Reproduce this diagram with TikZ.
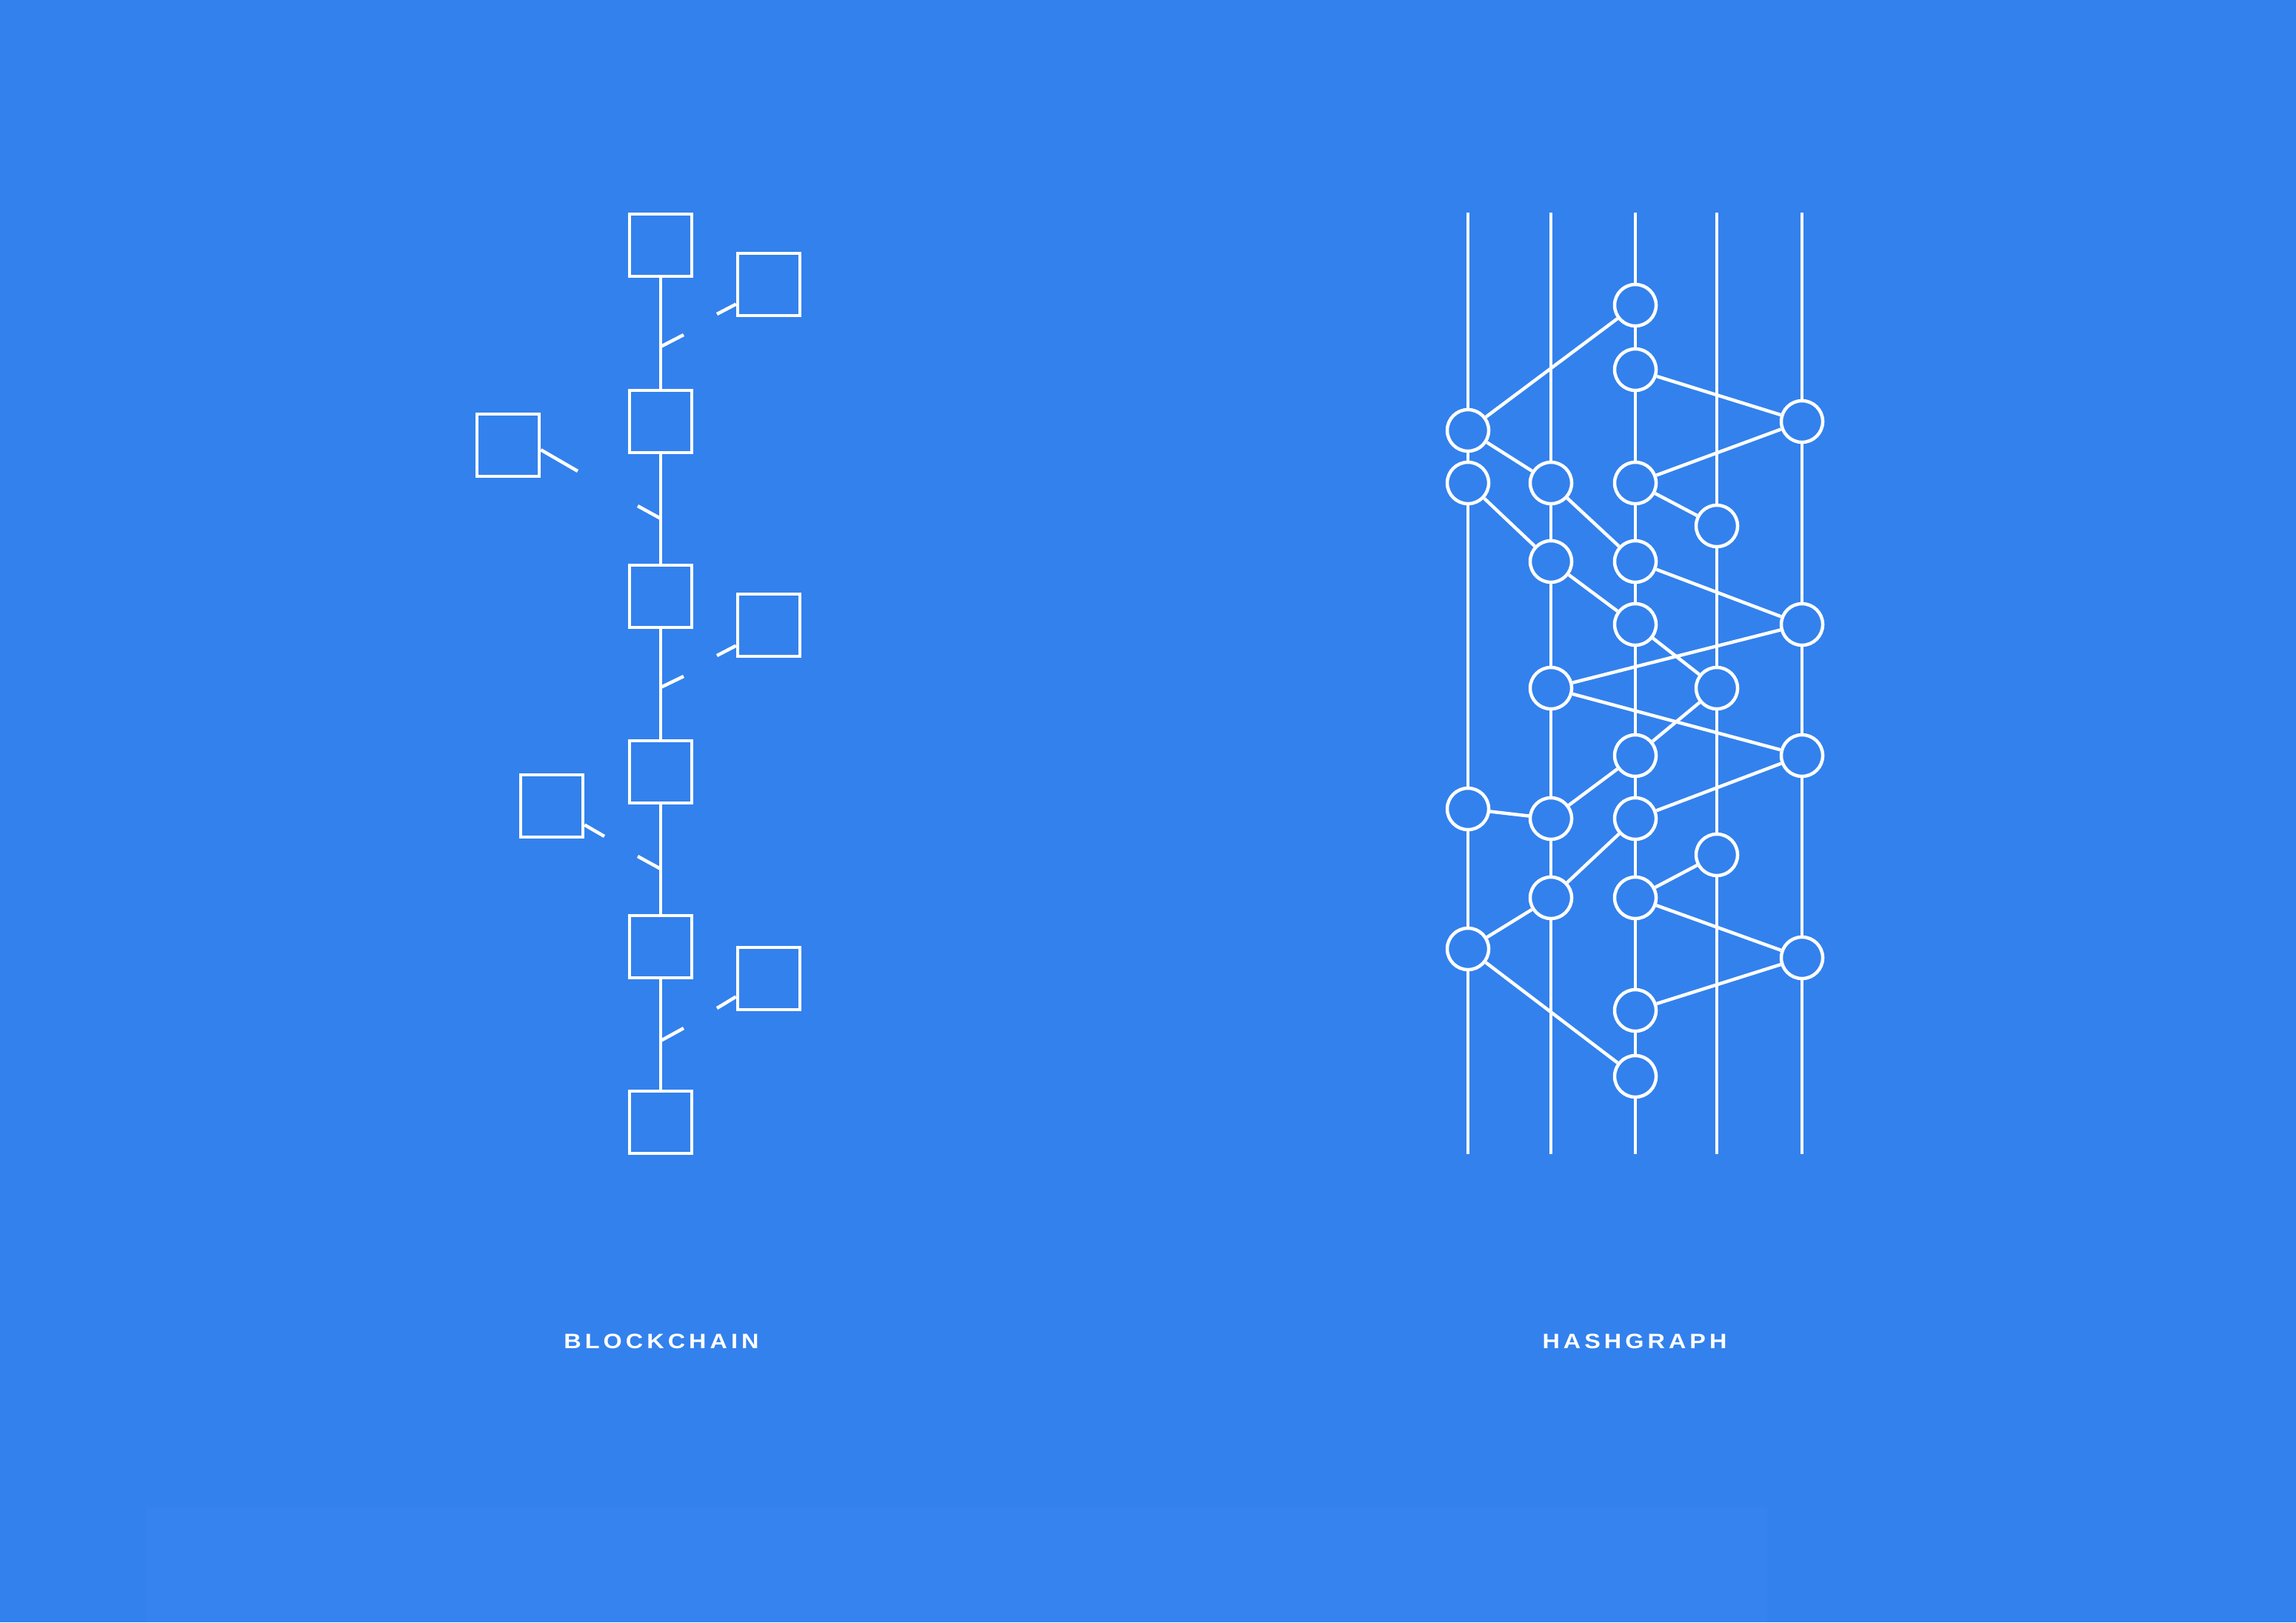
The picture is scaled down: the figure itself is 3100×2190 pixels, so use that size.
\documentclass[tikz,border=0pt]{standalone}
\usepackage{fontspec}
\newfontfamily\captionfont[FakeStretch=1.15,LetterSpace=18]{Liberation Sans}
\definecolor{bgblue}{RGB}{51,129,237}
\definecolor{panelblue}{RGB}{54,131,240}
\tikzstyle{block}=[rectangle,draw=white,fill=bgblue,line width=0.045cm,minimum size=0.84cm,inner sep=0pt]
\tikzstyle{event}=[circle,draw=white,fill=bgblue,line width=0.045cm,minimum size=0.56cm,inner sep=0pt]
\tikzstyle{link}=[draw=white,line width=0.045cm]
\tikzstyle{caption}=[text=white,inner sep=0pt,font={\captionfont\bfseries\fontsize{8pt}{10pt}\selectfont}]

\begin{document}
\begin{tikzpicture}[x=0.01cm,y=-0.01cm]
\fill[bgblue] (0,0) rectangle (3100,2190);
\useasboundingbox (0,0) rectangle (3100,2190);
\fill[panelblue] (198,2035) rectangle (2386,2190);

% blockchain
\node[block] at (892, 331) (blk1) {};
\node[block] at (892, 569) (blk2) {};
\node[block] at (892, 805) (blk3) {};
\node[block] at (892, 1042) (blk4) {};
\node[block] at (892, 1278) (blk5) {};
\node[block] at (892, 1515) (blk6) {};
\node[block] at (1038, 384) (rblk1) {};
\node[block] at (1038, 844) (rblk2) {};
\node[block] at (1038, 1321) (rblk3) {};
\node[block] at (686, 601) (lblk1) {};
\node[block] at (745, 1088) (lblk2) {};
\draw[link] (blk1) -- (blk2) -- (blk3) -- (blk4) -- (blk5) -- (blk6);
\coordinate (tick1a) at (892, 468);
\coordinate (tick1b) at (923, 452);
\coordinate (tick2a) at (892, 700);
\coordinate (tick2b) at (861, 683);
\coordinate (tick3a) at (892, 928);
\coordinate (tick3b) at (923, 913);
\coordinate (tick4a) at (892, 1173);
\coordinate (tick4b) at (861, 1156);
\coordinate (tick5a) at (892, 1405);
\coordinate (tick5b) at (923, 1388);
\draw[link] (tick1a) -- (tick1b);
\draw[link] (tick2a) -- (tick2b);
\draw[link] (tick3a) -- (tick3b);
\draw[link] (tick4a) -- (tick4b);
\draw[link] (tick5a) -- (tick5b);
\coordinate (rstub1) at (968, 424);
\coordinate (rstub2) at (968, 885);
\coordinate (rstub3) at (968, 1361);
\coordinate (lstub1) at (780, 636);
\coordinate (lstub2) at (816, 1129);
\draw[link] (rblk1.211) -- (rstub1);
\draw[link] (rblk2.212) -- (rstub2);
\draw[link] (rblk3.209) -- (rstub3);
\draw[link] (lblk1.352) -- (lstub1);
\draw[link] (lblk2.330) -- (lstub2);
\node[caption] at (893, 1811) (blocklabel) {BLOCKCHAIN};

% hashgraph
\node[event] at (1982, 581) (a1) {};
\node[event] at (1982, 652) (a2) {};
\node[event] at (1982, 1092) (a3) {};
\node[event] at (1982, 1281) (a4) {};
\node[event] at (2094, 652) (b1) {};
\node[event] at (2094, 758) (b2) {};
\node[event] at (2094, 929) (b3) {};
\node[event] at (2094, 1105) (b4) {};
\node[event] at (2094, 1212) (b5) {};
\node[event] at (2208, 412) (c1) {};
\node[event] at (2208, 499) (c2) {};
\node[event] at (2208, 652) (c3) {};
\node[event] at (2208, 758) (c4) {};
\node[event] at (2208, 843) (c5) {};
\node[event] at (2208, 1020) (c6) {};
\node[event] at (2208, 1105) (c7) {};
\node[event] at (2208, 1212) (c8) {};
\node[event] at (2208, 1364) (c9) {};
\node[event] at (2208, 1453) (c10) {};
\node[event] at (2318, 710) (d1) {};
\node[event] at (2318, 929) (d2) {};
\node[event] at (2318, 1154) (d3) {};
\node[event] at (2433, 569) (e1) {};
\node[event] at (2433, 843) (e2) {};
\node[event] at (2433, 1020) (e3) {};
\node[event] at (2433, 1293) (e4) {};
\coordinate (atop) at (1982, 287);
\coordinate (btop) at (2094, 287);
\coordinate (ctop) at (2208, 287);
\coordinate (dtop) at (2318, 287);
\coordinate (etop) at (2433, 287);
\coordinate (abot) at (1982, 1558);
\coordinate (bbot) at (2094, 1558);
\coordinate (cbot) at (2208, 1558);
\coordinate (dbot) at (2318, 1558);
\coordinate (ebot) at (2433, 1558);
\draw[link] (atop) -- (a1) -- (a2) -- (a3) -- (a4) -- (abot);
\draw[link] (btop) -- (b1) -- (b2) -- (b3) -- (b4) -- (b5) -- (bbot);
\draw[link] (ctop) -- (c1) -- (c2) -- (c3) -- (c4) -- (c5) -- (c6) -- (c7) -- (c8) -- (c9) -- (c10) -- (cbot);
\draw[link] (dtop) -- (d1) -- (d2) -- (d3) -- (dbot);
\draw[link] (etop) -- (e1) -- (e2) -- (e3) -- (e4) -- (ebot);
\draw[link] (a1) -- (c1);
\draw[link] (c2) -- (e1);
\draw[link] (e1) -- (c3);
\draw[link] (a1) -- (b1);
\draw[link] (a2) -- (b2);
\draw[link] (b1) -- (c4);
\draw[link] (c3) -- (d1);
\draw[link] (c4) -- (e2);
\draw[link] (b2) -- (c5);
\draw[link] (c5) -- (d2);
\draw[link] (e2) -- (b3);
\draw[link] (b3) -- (e3);
\draw[link] (d2) -- (c6);
\draw[link] (c6) -- (b4);
\draw[link] (a3) -- (b4);
\draw[link] (c7) -- (e3);
\draw[link] (b5) -- (c7);
\draw[link] (c8) -- (d3);
\draw[link] (c8) -- (e4);
\draw[link] (a4) -- (b5);
\draw[link] (a4) -- (c10);
\draw[link] (c9) -- (e4);
\node[caption] at (2207, 1811) (hashlabel) {HASHGRAPH};
\end{tikzpicture}
\end{document}
